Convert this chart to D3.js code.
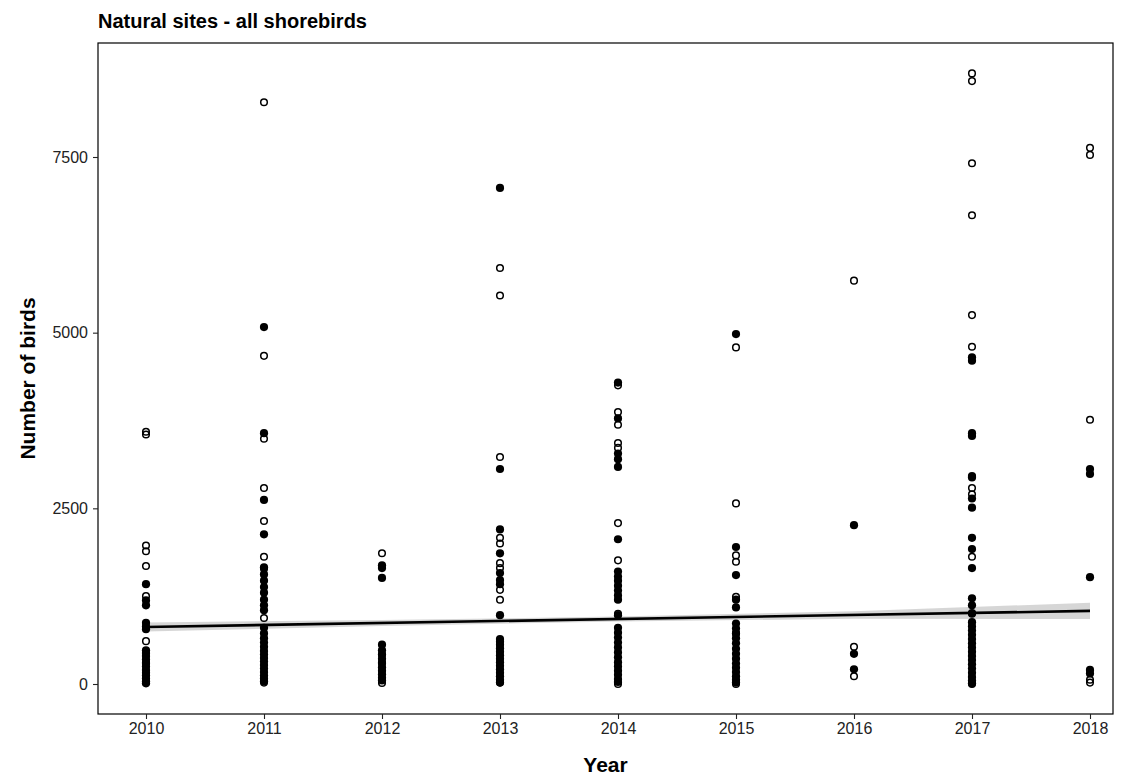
<!DOCTYPE html>
<html><head><meta charset="utf-8">
<script src="https://cdn.jsdelivr.net/npm/d3@7"></script>
<style>body{margin:0;background:#fff}svg{display:block}text{font-family:"Liberation Sans",Arial,sans-serif}</style>
</head><body>
<svg id="c" width="1129" height="780"></svg>
<script>
const years = [2010,2011,2012,2013,2014,2015,2016,2017,2018];
const yTicks = [0,2500,5000,7500];
const openPoints = [
 [2010,3590],[2010,3550],[2010,1970],[2010,1890],[2010,1680],[2010,1250],[2010,610],[2010,300],[2010,20],
 [2011,8280],[2011,4670],[2011,3490],[2011,2790],[2011,2320],[2011,1810],[2011,1640],[2011,940],[2011,20],
 [2012,1860],[2012,420],[2012,300],[2012,15],
 [2013,5920],[2013,5530],[2013,3230],[2013,2080],[2013,2000],[2013,1720],[2013,1650],[2013,1340],[2013,1200],[2013,20],
 [2014,4250],[2014,3870],[2014,3690],[2014,3430],[2014,3360],[2014,2290],[2014,1760],[2014,1000],[2014,0],
 [2015,4790],[2015,2570],[2015,1830],[2015,1740],[2015,1240],[2015,720],[2015,0],
 [2016,5740],[2016,530],[2016,110],
 [2017,8690],[2017,8580],[2017,7410],[2017,6670],[2017,5250],[2017,4800],[2017,2790],[2017,2700],[2017,1810],[2017,1000],[2017,0],
 [2018,7630],[2018,7530],[2018,3760],[2018,60],[2018,20]
];
const filledPoints = [
 [2010,1420],[2010,1190],[2010,1120],[2010,870],[2010,820],[2010,780],[2010,480],[2010,440],[2010,400],[2010,350],[2010,300],[2010,250],[2010,200],[2010,160],[2010,120],[2010,80],[2010,40],[2010,10],
 [2011,5080],[2011,3570],[2011,2620],[2011,2130],[2011,1660],[2011,1560],[2011,1470],[2011,1380],[2011,1300],[2011,1200],[2011,1120],[2011,1050],[2011,800],[2011,720],[2011,650],[2011,590],[2011,530],[2011,470],[2011,420],[2011,370],[2011,320],[2011,270],[2011,220],[2011,170],[2011,120],[2011,80],[2011,40],
 [2012,1690],[2012,1650],[2012,1510],[2012,560],[2012,480],[2012,420],[2012,360],[2012,300],[2012,240],[2012,190],[2012,140],[2012,90],[2012,50],
 [2013,7060],[2013,3060],[2013,2200],[2013,1860],[2013,1580],[2013,1480],[2013,1420],[2013,980],[2013,640],[2013,600],[2013,560],[2013,510],[2013,460],[2013,410],[2013,360],[2013,310],[2013,260],[2013,210],[2013,160],[2013,110],[2013,60],[2013,20],
 [2014,4290],[2014,3780],[2014,3280],[2014,3200],[2014,3090],[2014,2060],[2014,1600],[2014,1530],[2014,1470],[2014,1400],[2014,1330],[2014,1260],[2014,1200],[2014,980],[2014,800],[2014,730],[2014,660],[2014,590],[2014,520],[2014,450],[2014,380],[2014,310],[2014,250],[2014,190],[2014,130],[2014,70],[2014,30],
 [2015,4980],[2015,1950],[2015,1550],[2015,1200],[2015,1090],[2015,860],[2015,790],[2015,720],[2015,650],[2015,580],[2015,500],[2015,430],[2015,360],[2015,290],[2015,230],[2015,170],[2015,110],[2015,60],[2015,20],
 [2016,2260],[2016,430],[2016,210],
 [2017,4650],[2017,4600],[2017,3570],[2017,3530],[2017,2960],[2017,2940],[2017,2640],[2017,2510],[2017,2080],[2017,1920],[2017,1650],[2017,1220],[2017,1120],[2017,1010],[2017,880],[2017,820],[2017,760],[2017,700],[2017,640],[2017,580],[2017,520],[2017,460],[2017,400],[2017,340],[2017,280],[2017,220],[2017,160],[2017,100],[2017,50],[2017,10],
 [2018,3060],[2018,2990],[2018,1520],[2018,200],[2018,150]
];
const trendYears = [2010,2018];
const trendValues = [811,1040];
const bandYears = [2010,2012,2014,2016,2018];
const bandLower = [746,826,890,927,925];
const bandUpper = [876,910,960,1037,1155];

const svg = d3.select("#c");
const L=98,R=1113,T=43,B=714;
const x = d3.scaleLinear().domain([2010,2018]).range([146,1090]);
const y = d3.scaleLinear().domain([0,7500]).range([684,157]);

const area = d3.area().x((d,i)=>x(bandYears[i])).y0((d,i)=>y(bandLower[i])).y1((d,i)=>y(bandUpper[i]));
svg.append("path").datum(bandYears).attr("d",area).attr("fill","#999").attr("opacity",0.4);

const g = svg.append("g");
g.selectAll("circle.o").data(openPoints).join("circle").attr("class","o")
 .attr("cx",d=>x(d[0])).attr("cy",d=>y(d[1])).attr("r",3.3)
 .attr("fill","none").attr("stroke","#000").attr("stroke-width",1.5);
g.selectAll("circle.f").data(filledPoints).join("circle").attr("class","f")
 .attr("cx",d=>x(d[0])).attr("cy",d=>y(d[1])).attr("r",4.1)
 .attr("fill","#000");

svg.append("path").datum(trendYears)
 .attr("d",d3.line().x(d=>x(d)).y((d,i)=>y(trendValues[i])))
 .attr("stroke","#000").attr("stroke-width",2.6).attr("fill","none");

svg.append("rect").attr("x",L).attr("y",T).attr("width",R-L).attr("height",B-T)
 .attr("fill","none").attr("stroke","#000").attr("stroke-width",1.2);

const xa = svg.append("g").attr("transform",`translate(0,${B})`)
 .call(d3.axisBottom(x).tickValues(years).tickFormat(d3.format("d")).tickSize(5).tickPadding(4));
const ya = svg.append("g").attr("transform",`translate(${L},0)`)
 .call(d3.axisLeft(y).tickValues(yTicks).tickFormat(d3.format("d")).tickSize(5).tickPadding(5));
[xa,ya].forEach(a=>{
 a.select(".domain").remove();
 a.selectAll(".tick line").attr("stroke","#222").attr("stroke-width",1.1);
 a.selectAll(".tick text").attr("fill","#222").style("font-size","16px");
});

svg.append("text").attr("x",98).attr("y",28).text("Natural sites - all shorebirds")
 .style("font-size","20px").style("font-weight","bold");
svg.append("text").attr("x",(L+R)/2).attr("y",772).attr("text-anchor","middle").text("Year")
 .style("font-size","21px").style("font-weight","bold");
svg.append("text").attr("transform",`translate(35,${(T+B)/2}) rotate(-90)`).attr("text-anchor","middle")
 .text("Number of birds").style("font-size","21px").style("font-weight","bold");
</script>
</body></html>
